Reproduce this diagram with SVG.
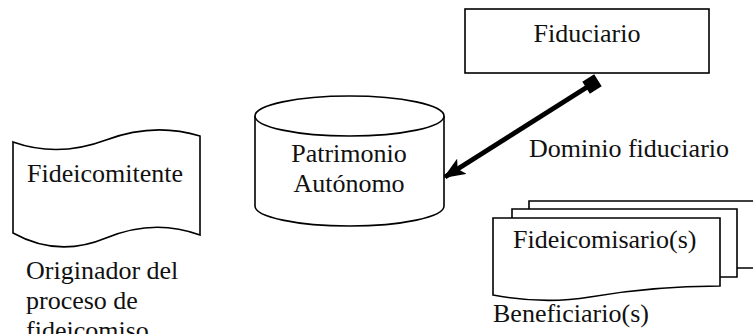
<svg xmlns="http://www.w3.org/2000/svg" width="753" height="334" viewBox="0 0 753 334" font-family="'Liberation Serif', 'Times New Roman', 'DejaVu Serif', serif">
<style>
.s{fill:#fff;stroke:#000;stroke-width:1.6;}
text{font-family:'Liberation Serif','Times New Roman','DejaVu Serif',serif;font-size:26px;fill:#111;}
.c{text-anchor:middle;}
.conn{stroke:#000;stroke-width:5;fill:none;}
</style>
<defs>
<marker id="sq" markerUnits="userSpaceOnUse" markerWidth="16" markerHeight="16" refX="8" refY="8" orient="auto">
<rect x="1" y="1" width="14" height="14" fill="#000"/>
</marker>
<marker id="ah" markerUnits="userSpaceOnUse" markerWidth="22" markerHeight="18" refX="20" refY="9" orient="auto">
<path d="M0,0 L22,9 L0,18 L5,9 Z" fill="#000"/>
</marker>
</defs>
<g id="fiduciario">
<rect class="s" x="465" y="9" width="244" height="64"/>
<text class="c" x="587" y="42">Fiduciario</text>
</g>
<g id="patrimonio">
<path class="s" d="M255,116 L255,206 A94.5,20 0 0 0 444,206 L444,116"/>
<ellipse class="s" cx="349.5" cy="116" rx="94.5" ry="20"/>
<text class="c" x="349" y="162">Patrimonio</text>
<text class="c" x="349" y="192">Autónomo</text>
</g>
<g id="fideicomitente">
<path class="s" d="M13,142 Q58,158 106,140 T200,136 L200,235 Q154,218 106,238 T13,233 Z"/>
<text x="27" y="182">Fideicomitente</text>
</g>
<g id="originador">
<text x="26" y="279">Originador del</text>
<text x="26" y="309">proceso de</text>
<text x="26" y="339">fideicomiso</text>
</g>
<g id="fideicomisarios">
<path class="s" d="M529,209 L529,201 L760,201 L760,268 L737,268"/>
<path class="s" d="M512,218 L512,209 L737,209 L737,277 L720,277"/>
<path class="s" d="M493,218 L720,218 L720,286 C670,286 630,290 590,297 C560,302 530,302 493,295 Z"/>
<text x="513" y="248">Fideicomisario(s)</text>
</g>
<g id="labels">
<text x="529" y="157">Dominio fiduciario</text>
<text x="493" y="322">Beneficiario(s)</text>
</g>
<g id="connectors">
<line class="conn" x1="592" y1="84" x2="445" y2="177" marker-start="url(#sq)" marker-end="url(#ah)"/>
</g>
</svg>
